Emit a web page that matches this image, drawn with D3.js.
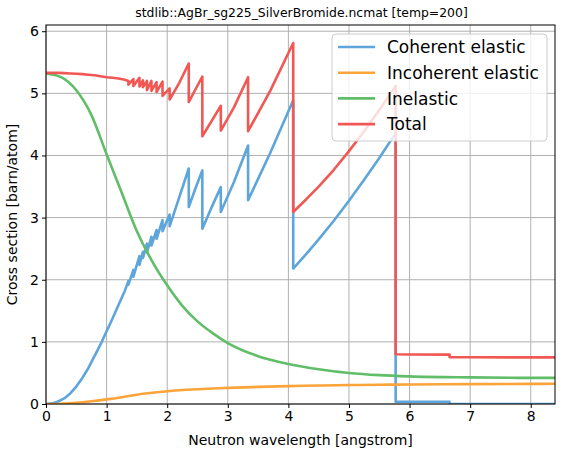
<!DOCTYPE html>
<html>
<head>
<meta charset="utf-8">
<script src="https://cdn.jsdelivr.net/npm/d3@7"></script>
<style>
  html, body { margin: 0; padding: 0; background: #fff; }
  svg { display: block; font-family: "DejaVu Sans", sans-serif; }
</style>
</head>
<body>
<svg id="chart" width="562" height="454"></svg>
<script>
// Bragg-edge sampled series (repeated wavelengths mark the vertical edges)
const braggWavelength = [0, 0.1, 0.2, 0.3, 0.4, 0.5, 0.6, 0.7, 0.8, 0.9, 1.0, 1.1, 1.2, 1.3, 1.36, 1.36,
  1.4425, 1.4425, 1.542, 1.542, 1.60, 1.60, 1.666, 1.666, 1.74, 1.74, 1.825, 1.825, 1.923, 1.923,
  2.04, 2.04, 2.2, 2.356, 2.356, 2.47, 2.58, 2.58, 2.73, 2.885, 2.885, 3.1, 3.335, 3.335, 3.7,
  4.08, 4.08, 4.3, 4.5, 4.75, 5.0, 5.25, 5.5, 5.77, 5.77, 6.0, 6.66, 6.66, 7.0, 8.0, 8.4];
const coherentElastic = [0, 0.01, 0.04, 0.09, 0.17, 0.28, 0.42, 0.58, 0.77, 0.96, 1.17, 1.38, 1.60, 1.82, 1.98, 1.92,
  2.16, 2.05, 2.38, 2.24, 2.45, 2.35, 2.58, 2.44, 2.69, 2.55, 2.80, 2.66, 2.96, 2.78,
  3.05, 2.86, 3.33, 3.79, 3.17, 3.48, 3.76, 2.82, 3.16, 3.49, 3.09, 3.57, 4.16, 3.28, 4.04,
  4.89, 2.18, 2.42, 2.65, 2.95, 3.27, 3.61, 3.96, 4.36, 0.037, 0.037, 0.037, 0, 0, 0, 0];
const totalXS = [5.33, 5.33, 5.33, 5.325, 5.32, 5.315, 5.31, 5.30, 5.29, 5.275, 5.26, 5.25, 5.24, 5.22, 5.20, 5.14,
  5.23, 5.12, 5.25, 5.11, 5.21, 5.10, 5.20, 5.05, 5.20, 5.04, 5.18, 5.02, 5.19, 4.96,
  5.08, 4.90, 5.17, 5.48, 4.86, 5.07, 5.27, 4.31, 4.55, 4.80, 4.40, 4.77, 5.26, 4.39, 5.04,
  5.81, 3.09, 3.30, 3.50, 3.77, 4.07, 4.39, 4.73, 5.12, 0.80, 0.797, 0.795, 0.755, 0.753, 0.75, 0.75];

// Smooth series
const smoothWavelength = [0, 0.25, 0.5, 0.75, 1.0, 1.25, 1.5, 1.75, 2.0, 2.25, 2.5, 2.75, 3.0, 3.5,
  4.0, 4.5, 5.0, 5.5, 6.0, 7.0, 8.0, 8.4];
const incoherentElastic = [0, 0.005, 0.02, 0.045, 0.075, 0.11, 0.15, 0.18, 0.205, 0.225, 0.237, 0.25,
  0.26, 0.275, 0.288, 0.297, 0.305, 0.31, 0.315, 0.32, 0.324, 0.325];
const inelastic = [5.32, 5.26, 5.05, 4.65, 4.02, 3.40, 2.78, 2.30, 1.91, 1.58, 1.33, 1.14, 0.98, 0.77,
  0.645, 0.56, 0.50, 0.465, 0.445, 0.428, 0.42, 0.42];

const xTicks = [0, 1, 2, 3, 4, 5, 6, 7, 8];
const yTicks = [0, 1, 2, 3, 4, 5, 6];
const seriesNames = ["Coherent elastic", "Incoherent elastic", "Inelastic", "Total"];
const seriesColors = ["#5DA5DA", "#FAA43A", "#60BD68", "#F15854"];

const titleText = "stdlib::AgBr_sg225_SilverBromide.ncmat [temp=200]";
const xLabel = "Neutron wavelength [angstrom]";
const yLabel = "Cross section [barn/atom]";

const svg = d3.select("#chart");
const margin = { left: 46, right: 7, top: 25, bottom: 50 };
const W = 562, H = 454;
const x = d3.scaleLinear().domain([0, 8.4]).range([margin.left, W - margin.right]);
const y = d3.scaleLinear().domain([0, 6.1]).range([H - margin.bottom, margin.top]);

// grid
const grid = svg.append("g");
grid.selectAll(".gx").data(xTicks).join("line")
  .attr("x1", d => x(d)).attr("x2", d => x(d))
  .attr("y1", y.range()[0]).attr("y2", y.range()[1])
  .attr("stroke", "#b0b0b0").attr("stroke-width", 1);
grid.selectAll(".gy").data(yTicks).join("line")
  .attr("x1", x.range()[0]).attr("x2", x.range()[1])
  .attr("y1", d => y(d)).attr("y2", d => y(d))
  .attr("stroke", "#b0b0b0").attr("stroke-width", 1);

// clip
svg.append("clipPath").attr("id", "plotClip").append("rect")
  .attr("x", x.range()[0]).attr("y", y.range()[1])
  .attr("width", x.range()[1] - x.range()[0]).attr("height", y.range()[0] - y.range()[1]);

const plot = svg.append("g").attr("clip-path", "url(#plotClip)");

const linePts = d3.line().x(d => x(d[0])).y(d => y(d[1])).curve(d3.curveLinear);
const lineSmooth = d3.line().x(d => x(d[0])).y(d => y(d[1])).curve(d3.curveMonotoneX);

const series = [
  { pts: d3.zip(braggWavelength, coherentElastic), gen: linePts },
  { pts: d3.zip(smoothWavelength, incoherentElastic), gen: lineSmooth },
  { pts: d3.zip(smoothWavelength, inelastic), gen: lineSmooth },
  { pts: d3.zip(braggWavelength, totalXS), gen: linePts }
];
series.forEach((s, i) => {
  plot.append("path").attr("d", s.gen(s.pts))
    .attr("fill", "none").attr("stroke", seriesColors[i])
    .attr("stroke-width", 2.6).attr("stroke-linejoin", "round").attr("stroke-linecap", "butt");
});

// axes
const xAxis = d3.axisBottom(x).tickValues(xTicks).tickSize(4).tickPadding(3).tickFormat(d3.format("d"));
const yAxis = d3.axisLeft(y).tickValues(yTicks).tickSize(4).tickPadding(3).tickFormat(d3.format("d"));
const gx = svg.append("g").attr("transform", `translate(0,${y.range()[0]})`).call(xAxis);
const gy = svg.append("g").attr("transform", `translate(${x.range()[0]},0)`).call(yAxis);
[gx, gy].forEach(g => {
  g.select(".domain").remove();
  g.selectAll("text").attr("font-size", 14).attr("fill", "#000").attr("font-family", "DejaVu Sans");
  g.selectAll("line").attr("stroke", "#000").attr("stroke-width", 1);
});

// frame
svg.append("rect")
  .attr("x", x.range()[0]).attr("y", y.range()[1])
  .attr("width", x.range()[1] - x.range()[0]).attr("height", y.range()[0] - y.range()[1])
  .attr("fill", "none").attr("stroke", "#000").attr("stroke-width", 1);

// labels
svg.append("text").attr("x", (x.range()[0] + x.range()[1]) / 2).attr("y", 445)
  .attr("text-anchor", "middle").attr("font-size", 14).text(xLabel);
svg.append("text").attr("transform", `translate(17,${(y.range()[0] + y.range()[1]) / 2}) rotate(-90)`)
  .attr("text-anchor", "middle").attr("font-size", 14).text(yLabel);
svg.append("text").attr("x", (x.range()[0] + x.range()[1]) / 2 + 1).attr("y", 17)
  .attr("text-anchor", "middle").attr("font-size", 12.4).text(titleText);

// legend
const lg = svg.append("g").attr("transform", "translate(332,34)");
lg.append("rect").attr("width", 215).attr("height", 107).attr("rx", 4)
  .attr("fill", "#fff").attr("fill-opacity", 0.8).attr("stroke", "#cccccc").attr("stroke-width", 1);
seriesNames.forEach((name, i) => {
  const yy = 13 + i * 25.7;
  lg.append("line").attr("x1", 6).attr("x2", 43).attr("y1", yy).attr("y2", yy)
    .attr("stroke", seriesColors[i]).attr("stroke-width", 2.6);
  lg.append("text").attr("x", 55).attr("y", yy).attr("dy", "0.36em")
    .attr("font-size", 17).text(name);
});
</script>
</body>
</html>
